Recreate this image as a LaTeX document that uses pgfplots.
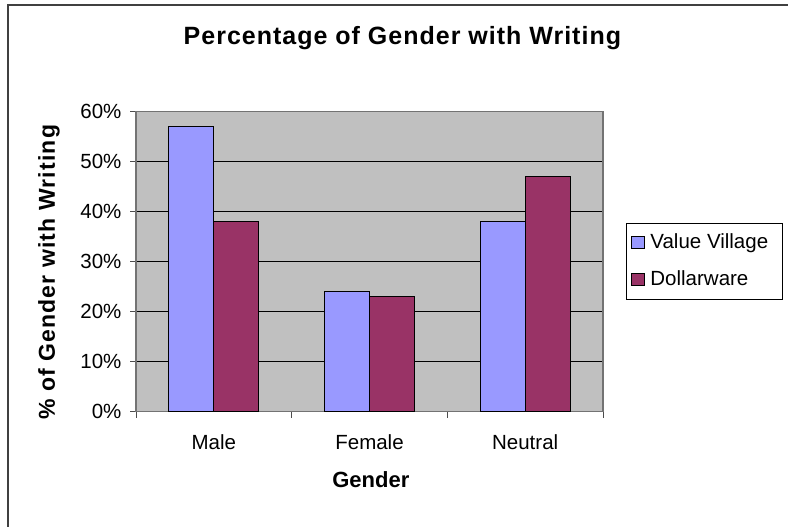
\documentclass[border=0pt]{standalone}
\usepackage{pgfplots}
\pgfplotsset{compat=1.18}
\usepackage{fontspec}
\setmainfont{Liberation Sans}
\definecolor{vv}{HTML}{9999FF}
\definecolor{dw}{HTML}{993366}
\definecolor{plotbg}{HTML}{C0C0C0}
\begin{document}
\begin{tikzpicture}[x=1bp,y=1bp]
\path[use as bounding box] (0,0) rectangle (788,527);
\draw[line width=2bp, color=black!75] (7.5,-2) -- (7.5,521.5) -- (790,521.5);
\begin{axis}[
  at={(136bp,115.3bp)}, anchor=south west,
  scale only axis, width=467bp, height=300bp,
  xmin=-0.5, xmax=2.5, ymin=0, ymax=60,
  axis background/.style={fill=plotbg},
  ytick={0,10,...,60},
  yticklabel={\pgfmathprintnumber{\tick}\%},
  /pgf/number format/assume math mode=true,
  xtick={0,1,2}, xticklabels={Male,Female,Neutral},
  minor xtick={-0.5,0.5,1.5,2.5},
  major x tick style={draw=none},
  tick align=outside, major tick length=6bp, minor tick length=6bp,
  ytick pos=left, xtick pos=bottom,
  ymajorgrids, grid style={black, line width=0.8bp},
  axis line style={draw=black!55, line width=1.2bp},
  tick style={black!70, line width=1bp},
  ticklabel style={font=\fontsize{20.5bp}{24bp}\selectfont},
  yticklabel style={xshift=-5bp},
  xticklabel style={anchor=base, yshift=-32bp},
  bar width=0.289,
  legend cell align=left,
  legend image code/.code={\draw[#1,line width=1bp] (0bp,-6bp) rectangle (13bp,6bp);},
  legend style={at={(axis description cs:1.0493,0.629)}, anchor=north west,
    draw=black, line width=0.8bp, inner xsep=5bp, inner ysep=8bp, row sep=14bp, column sep=3bp,
    font=\fontsize{20.5bp}{24bp}\selectfont,
    nodes={inner sep=2bp, text height=15bp, text depth=4bp}},
]
\addplot[ybar, bar shift=-0.1445, fill=vv, draw=black, line width=1.3bp]
  coordinates {(0,57) (1,24) (2,38)};
\addlegendentry{Value Village\rule{7bp}{0pt}}
\addplot[ybar, bar shift=0.1445, fill=dw, draw=black, line width=1.3bp]
  coordinates {(0,38) (1,23) (2,47)};
\addlegendentry{Dollarware}
\end{axis}
\node[font=\fontsize{25bp}{30bp}\selectfont\bfseries\addfontfeature{LetterSpace=4}, anchor=base, inner sep=0pt] at (402.4,482) {Percentage of Gender with Writing};
\node[rotate=90, font=\fontsize{23bp}{28bp}\selectfont\bfseries\addfontfeature{LetterSpace=5}, anchor=base, inner sep=0pt] at (54.8,254.6) {\% of Gender with Writing};
\node[font=\fontsize{22bp}{26bp}\selectfont\bfseries, anchor=base, inner sep=0pt] at (370.8,39) {Gender};
\end{tikzpicture}
\end{document}
